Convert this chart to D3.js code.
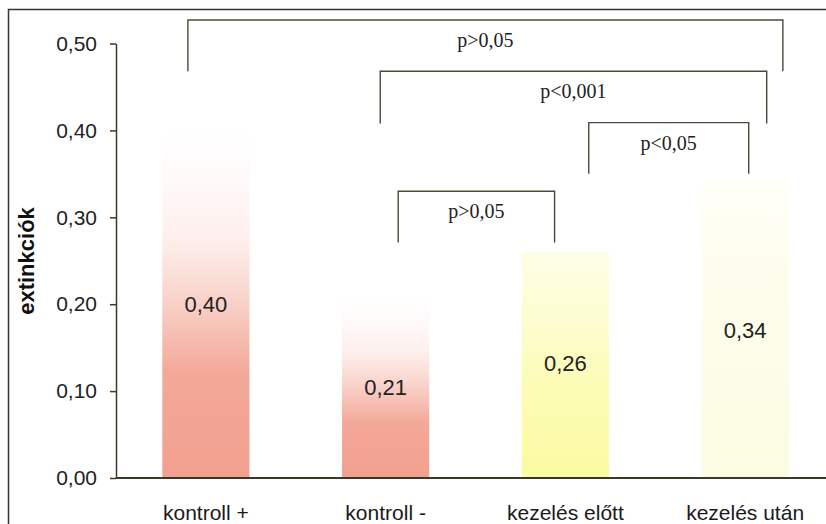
<!DOCTYPE html>
<html>
<head>
<meta charset="utf-8">
<script src="https://cdn.jsdelivr.net/npm/d3@7"></script>
<style>
    body { margin: 0; background: #fff; }
    svg { display: block; }
</style>
</head>
<body>
<div id="chart"></div>
<script>
//
// extinkciók bar chart with significance brackets
//

var categories = ['kontroll +', 'kontroll -', 'kezelés előtt', 'kezelés után'];
var values = [0.40, 0.21, 0.26, 0.34];
var valueLabels = ['0,40', '0,21', '0,26', '0,34'];
var yTicks = [0.00, 0.10, 0.20, 0.30, 0.40, 0.50];
var yTickLabels = ['0,00', '0,10', '0,20', '0,30', '0,40', '0,50'];

// significance brackets: from / to category, level of the top line and the legs (y units)
var bracketFrom = [0, 1, 2, 1];
var bracketTo = [3, 3, 3, 2];
var bracketTop = [0.527, 0.468, 0.409, 0.330];
var bracketLeg = [0.468, 0.408, 0.350, 0.271];
var bracketLabels = ['p>0,05', 'p<0,001', 'p<0,05', 'p>0,05'];

// bar colours, bottom to top
var barStops = [
    [[0, '#f2a08f'], [0.30, '#f3a898'], [0.52, '#f9d4cc'], [0.68, '#fdeeeb'], [0.86, '#fffafa'], [1, '#ffffff']],
    [[0, '#f2a08f'], [0.30, '#f3a898'], [0.52, '#f9d4cc'], [0.68, '#fdeeeb'], [0.86, '#fffafa'], [1, '#ffffff']],
    [[0, '#fbfba2'], [0.4, '#fcfcb6'], [0.8, '#fdfdd8'], [1, '#fefee6']],
    [[0, '#fcfce2'], [0.6, '#fdfdeb'], [1, '#fffff8']]
];

const width = 826;
const height = 524;
const axisColor = '#3d3826';
const lineColor = '#4d4838';

var svg = d3.select('#chart')
    .append('svg')
    .attr('width', width)
    .attr('height', height);

// outer frame (runs off the right and bottom edge in the scan)
svg.append('path')
    .attr('d', 'M8.5,' + (height + 2) + 'V9.5H' + (width + 2))
    .attr('fill', 'none')
    .attr('stroke', '#333')
    .attr('stroke-width', 1.5);

var x = d3.scaleBand()
    .domain(categories)
    .range([116, 835])
    .paddingInner(0.515)
    .paddingOuter(0.2575);

var y = d3.scaleLinear()
    .domain([0, 0.5])
    .range([478, 43.5]);

var defs = svg.append('defs');
barStops.forEach(function (stops, i) {
    var grad = defs.append('linearGradient')
        .attr('id', 'barGrad' + i)
        .attr('x1', 0).attr('y1', 1)
        .attr('x2', 0).attr('y2', 0);
    stops.forEach(function (s) {
        grad.append('stop').attr('offset', s[0]).attr('stop-color', s[1]);
    });
});

// bars
svg.append('g')
    .selectAll('rect')
    .data(values)
    .enter()
    .append('rect')
    .attr('x', function (d, i) { return x(categories[i]); })
    .attr('y', function (d) { return y(d); })
    .attr('width', x.bandwidth())
    .attr('height', function (d) { return y(0) - y(d); })
    .attr('fill', function (d, i) { return 'url(#barGrad' + i + ')'; });

// y axis
var yAxis = d3.axisLeft(y)
    .tickValues(yTicks)
    .tickFormat(function (d, i) { return yTickLabels[i]; })
    .tickSize(6)
    .tickSizeOuter(0)
    .tickPadding(13);

var gy = svg.append('g')
    .attr('transform', 'translate(116,0)')
    .call(yAxis);
gy.select('.domain').attr('stroke', axisColor).attr('stroke-width', 1.5);
gy.selectAll('.tick line').attr('stroke', axisColor).attr('stroke-width', 1.5);
gy.selectAll('.tick text')
    .attr('fill', '#222')
    .style('font-family', '"Liberation Sans", Arial, sans-serif')
    .style('font-size', '21px');

// x axis baseline
svg.append('line')
    .attr('x1', 116)
    .attr('x2', width)
    .attr('y1', y(0))
    .attr('y2', y(0))
    .attr('stroke', axisColor)
    .attr('stroke-width', 1.8);

// category labels
svg.append('g')
    .selectAll('text')
    .data(categories)
    .enter()
    .append('text')
    .attr('x', function (d) { return x(d) + x.bandwidth() / 2; })
    .attr('y', 520)
    .attr('text-anchor', 'middle')
    .attr('fill', '#1a1a1a')
    .style('font-family', '"Liberation Sans", Arial, sans-serif')
    .style('font-size', '21px')
    .text(function (d) { return d; });

// value labels
var labelYs = [0.20, 0.105, 0.132, 0.17];
svg.append('g')
    .selectAll('text')
    .data(valueLabels)
    .enter()
    .append('text')
    .attr('x', function (d, i) { return x(categories[i]) + x.bandwidth() / 2; })
    .attr('y', function (d, i) { return y(labelYs[i]); })
    .attr('dy', '0.36em')
    .attr('text-anchor', 'middle')
    .attr('fill', '#222')
    .style('font-family', '"Liberation Sans", Arial, sans-serif')
    .style('font-size', '22px')
    .text(function (d) { return d; });

// y axis title
svg.append('text')
    .attr('transform', 'translate(34,261) rotate(-90)')
    .attr('text-anchor', 'middle')
    .attr('fill', '#111')
    .style('font-family', '"Liberation Sans", Arial, sans-serif')
    .style('font-size', '22px')
    .style('font-weight', 'bold')
    .text('extinkciók');

// brackets; leg nudges as fraction of the band step
var step = x.step();
var nudgeL = [-0.10, -0.03, 0.13, 0.07];
var nudgeR = [0.21, 0.12, 0.02, -0.06];
var brackets = bracketLabels.map(function (lab, i) {
    return {
        x1: x(categories[bracketFrom[i]]) + x.bandwidth() / 2 + nudgeL[i] * step,
        x2: x(categories[bracketTo[i]]) + x.bandwidth() / 2 + nudgeR[i] * step,
        top: y(bracketTop[i]),
        leg: y(bracketLeg[i]),
        label: lab
    };
});

var bg = svg.append('g').selectAll('g').data(brackets).enter().append('g');
bg.append('path')
    .attr('d', function (d) {
        return 'M' + d.x1 + ',' + d.leg + 'V' + d.top + 'H' + d.x2 + 'V' + d.leg;
    })
    .attr('fill', 'none')
    .attr('stroke', lineColor)
    .attr('stroke-width', 1.4);
bg.append('text')
    .attr('x', function (d) { return (d.x1 + d.x2) / 2; })
    .attr('y', function (d) { return d.top + 27; })
    .attr('text-anchor', 'middle')
    .attr('fill', '#222')
    .style('font-family', '"Liberation Serif", "Times New Roman", serif')
    .style('font-size', '20px')
    .text(function (d) { return d.label; });
</script>
</body>
</html>
